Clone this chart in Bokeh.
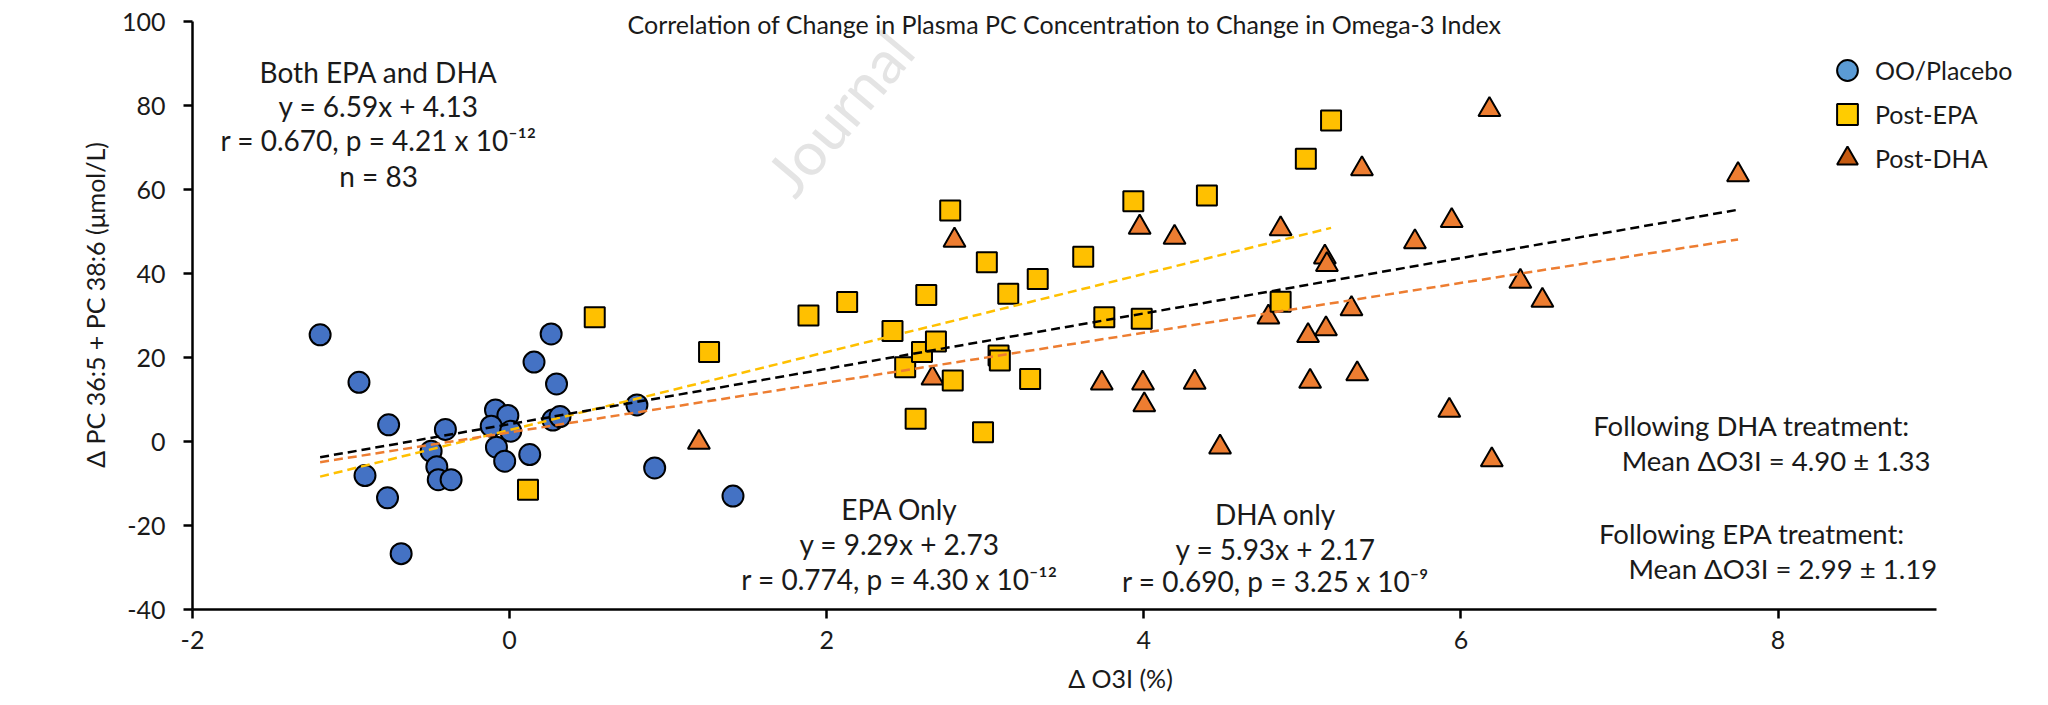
import numpy as np
from bokeh.plotting import figure
from bokeh.models import Range1d, FixedTicker, Label, Legend, LegendItem, ColumnDataSource
from bokeh.embed import file_html
from bokeh.resources import INLINE

# ---------------- data ----------------
placebo_x = [-1.195, -0.950, -0.763, -0.912, -0.770, -0.684, -0.405, -0.495, -0.459, -0.450,
             -0.369, -0.089, -0.011, -0.116, 0.007, -0.083, -0.031, 0.127, 0.262, 0.154,
             0.296, 0.273, 0.318, 0.803, 0.915, 1.409]
placebo_y = [25.4, 14.1, 3.97, -8.1, -13.4, -26.7, 2.86, -2.3, -6.0, -9.1,
             -9.1, 7.5, 6.2, 3.65, 2.46, -1.35, -4.7, -3.1, 25.6, 18.9,
             13.7, 5.1, 5.95, 8.7, -6.3, -13.0]

epa_x = [0.116, 0.537, 1.258, 1.885, 2.129, 2.415, 2.495, 2.561, 2.601, 2.628,
         2.689, 2.779, 2.795, 2.986, 3.010, 3.084, 3.092, 3.145, 3.283, 3.331,
         3.618, 3.751, 3.934, 3.987, 4.398, 4.863, 5.022, 5.181]
epa_y = [-11.5, 29.6, 21.3, 30.0, 33.2, 26.3, 17.7, 5.4, 21.3, 34.9,
         23.8, 55.0, 14.5, 2.2, 42.7, 20.5, 19.3, 35.2, 14.9, 38.7,
         44.0, 29.6, 57.2, 29.2, 58.6, 33.3, 67.3, 76.4]

dha_x = [1.194, 2.667, 2.806, 3.735, 3.974, 3.995, 4.003, 4.194, 4.321, 4.481,
         4.786, 4.863, 5.036, 5.049, 5.142, 5.149, 5.155, 5.310, 5.346, 5.376,
         5.710, 5.927, 5.942, 6.180, 6.195, 6.375, 6.514, 7.748]
dha_y = [-0.2, 15.1, 47.9, 13.9, 51.0, 13.9, 8.7, 48.6, 14.1, -1.35,
         29.6, 50.6, 25.2, 14.3, 43.9, 26.8, 42.1, 31.6, 16.1, 64.9,
         47.5, 7.4, 52.6, 79.0, -4.4, 38.1, 33.6, 63.5]

# regression lines (slope, intercept) as reported
fit_names = ["both", "epa", "dha"]
fit_slope = [6.59, 9.29, 5.93]
fit_intercept = [4.13, 2.73, 2.17]

x_ticks = [-2, 0, 2, 4, 6, 8]
x_tick_labels = ["-2", "0", "2", "4", "6", "8"]
y_ticks = [-40, -20, 0, 20, 40, 60, 80, 100]
y_tick_labels = ["-40", "-20", "0", "20", "40", "60", "80", "100"]

legend_labels = ["OO/Placebo", "Post-EPA", "Post-DHA"]

FONT = "Lato"
TXT = "#1a1a1a"

# ---------------- figure ----------------
PX_PER_X = 158.55
PX_PER_Y = 4.2
p = figure(width=2048, height=705, output_backend="svg", toolbar_location=None,
           x_range=Range1d(-2, -2 + 1856 / PX_PER_X),
           y_range=Range1d(-40, -40 + 609 / PX_PER_Y),
           min_border_left=192, min_border_right=0, min_border_top=0, min_border_bottom=96)
p.outline_line_color = None
p.xgrid.grid_line_color = None
p.ygrid.grid_line_color = None
p.background_fill_color = "white"
p.border_fill_color = "white"

for ax in (p.xaxis[0], p.yaxis[0]):
    ax.axis_line_width = 2.5
    ax.axis_line_color = "black"
    ax.major_tick_line_width = 2.5
    ax.major_tick_line_color = "black"
    ax.major_tick_in = 0
    ax.major_tick_out = 9
    ax.minor_tick_line_color = None
    ax.major_label_text_font = FONT
    ax.major_label_text_font_size = "25px"
    ax.major_label_text_color = TXT
    ax.axis_label_text_font = FONT
    ax.axis_label_text_font_size = "25px"
    ax.axis_label_text_font_style = "normal"
    ax.axis_label_text_color = TXT

p.xaxis[0].ticker = FixedTicker(ticks=x_ticks)
p.xaxis[0].major_label_overrides = dict(zip(x_ticks, x_tick_labels))
p.xaxis[0].bounds = (-2, 9)
p.xaxis[0].major_label_standoff = 12
p.xaxis[0].axis_label = "Δ O3I (%)"
p.xaxis[0].axis_label_standoff = 11

p.yaxis[0].ticker = FixedTicker(ticks=y_ticks)
p.yaxis[0].major_label_overrides = dict(zip(y_ticks, y_tick_labels))
p.yaxis[0].bounds = (-40, 100)
p.yaxis[0].major_label_standoff = 18
p.yaxis[0].axis_label = "Δ PC 36:5 + PC 38:6 (μmol/L)"
p.yaxis[0].axis_label_standoff = 9

# watermark
p.add_layout(Label(x=1.69, y=60.9, text="Journal", angle=50, angle_units="deg",
                   text_font=FONT, text_font_size="60px", text_color="#e4e4e4",
                   text_align="left", text_baseline="alphabetic", level="underlay"))

# ---------------- markers ----------------
p.scatter(dha_x, dha_y, marker="triangle", size=22, fill_color="#ED7D31",
          line_color="black", line_width=2)
p.scatter(epa_x, epa_y, marker="square", size=20, fill_color="#FFC000",
          line_color="black", line_width=2)
p.scatter(placebo_x, placebo_y, marker="circle", size=21, fill_color="#4472C4",
          line_color="black", line_width=2)

# ---------------- trend lines ----------------
all_x = placebo_x + epa_x + dha_x
fit_ranges = {
    "both": (min(all_x), max(all_x)),
    "epa": (min(placebo_x + epa_x), max(placebo_x + epa_x)),
    "dha": (min(placebo_x + dha_x), max(placebo_x + dha_x)),
}
fit_colors = {"both": "black", "epa": "#FFC000", "dha": "#ED7D31"}
for name in ["epa", "dha", "both"]:
    i = fit_names.index(name)
    xs = np.array(fit_ranges[name])
    ys = fit_slope[i] * xs + fit_intercept[i]
    p.line(xs, ys, line_color=fit_colors[name], line_width=2.5, line_dash="9 5")

# ---------------- legend (proxy renderers, nothing drawn in the plot) ----------------
proxy = ColumnDataSource(dict(x=[float("nan")], y=[float("nan")]))
leg_markers = ["circle", "square", "triangle"]
leg_colors = ["#5B9BD5", "#FFCC00", "#C55A11"]
leg_centers_px = [70, 114, 158]       # vertical centres of the legend rows (px from top)
for lab, mk, col, cy in zip(legend_labels, leg_markers, leg_colors, leg_centers_px):
    r = p.scatter("x", "y", source=proxy, marker=mk, size=20, fill_color=col,
                  line_color="black", line_width=2)
    lg = Legend(items=[LegendItem(label=lab, renderers=[r])],
                location=(1629, 609 - (cy + 26)), orientation="vertical",
                padding=0, margin=0, spacing=0, glyph_width=52, glyph_height=52,
                label_standoff=2, border_line_color=None, background_fill_alpha=0,
                label_text_font=FONT, label_text_font_size="25px", label_text_color=TXT)
    p.add_layout(lg)

# ---------------- text annotations ----------------
def add_text(x, y, s, size="28px", align="center", style="normal"):
    p.add_layout(Label(x=x, y=y, text=s, text_font=FONT, text_font_size=size,
                       text_align=align, text_baseline="middle", text_color=TXT,
                       text_font_style=style))

add_text(-3.10, 99.5, "(b)", size="26px", align="left")
add_text(3.5, 99.5, "Correlation of Change in Plasma PC Concentration to Change in Omega-3 Index",
         size="25px")

add_text(-0.826, 87.9, "Both EPA and DHA")
add_text(-0.826, 79.8, "y = 6.59x + 4.13")
add_text(-0.826, 71.7, "r = 0.670, p = 4.21 x 10⁻¹²")
add_text(-0.826, 63.1, "n = 83")

add_text(2.459, -16.0, "EPA Only")
add_text(2.459, -24.4, "y = 9.29x + 2.73")
add_text(2.459, -32.7, "r = 0.774, p = 4.30 x 10⁻¹²")

add_text(4.831, -17.2, "DHA only")
add_text(4.831, -25.5, "y = 5.93x + 2.17")
add_text(4.831, -33.1, "r = 0.690, p = 3.25 x 10⁻⁹")

add_text(7.834, 3.8, "Following DHA treatment:", size="27.5px")
add_text(7.988, -4.5, "Mean ΔO3I = 4.90 ± 1.33", size="27.5px")
add_text(7.836, -22.0, "Following EPA treatment:", size="27.5px")
add_text(8.03, -30.3, "Mean ΔO3I = 2.99 ± 1.19", size="27.5px")

open("out.html", "w").write(file_html(p, INLINE))
